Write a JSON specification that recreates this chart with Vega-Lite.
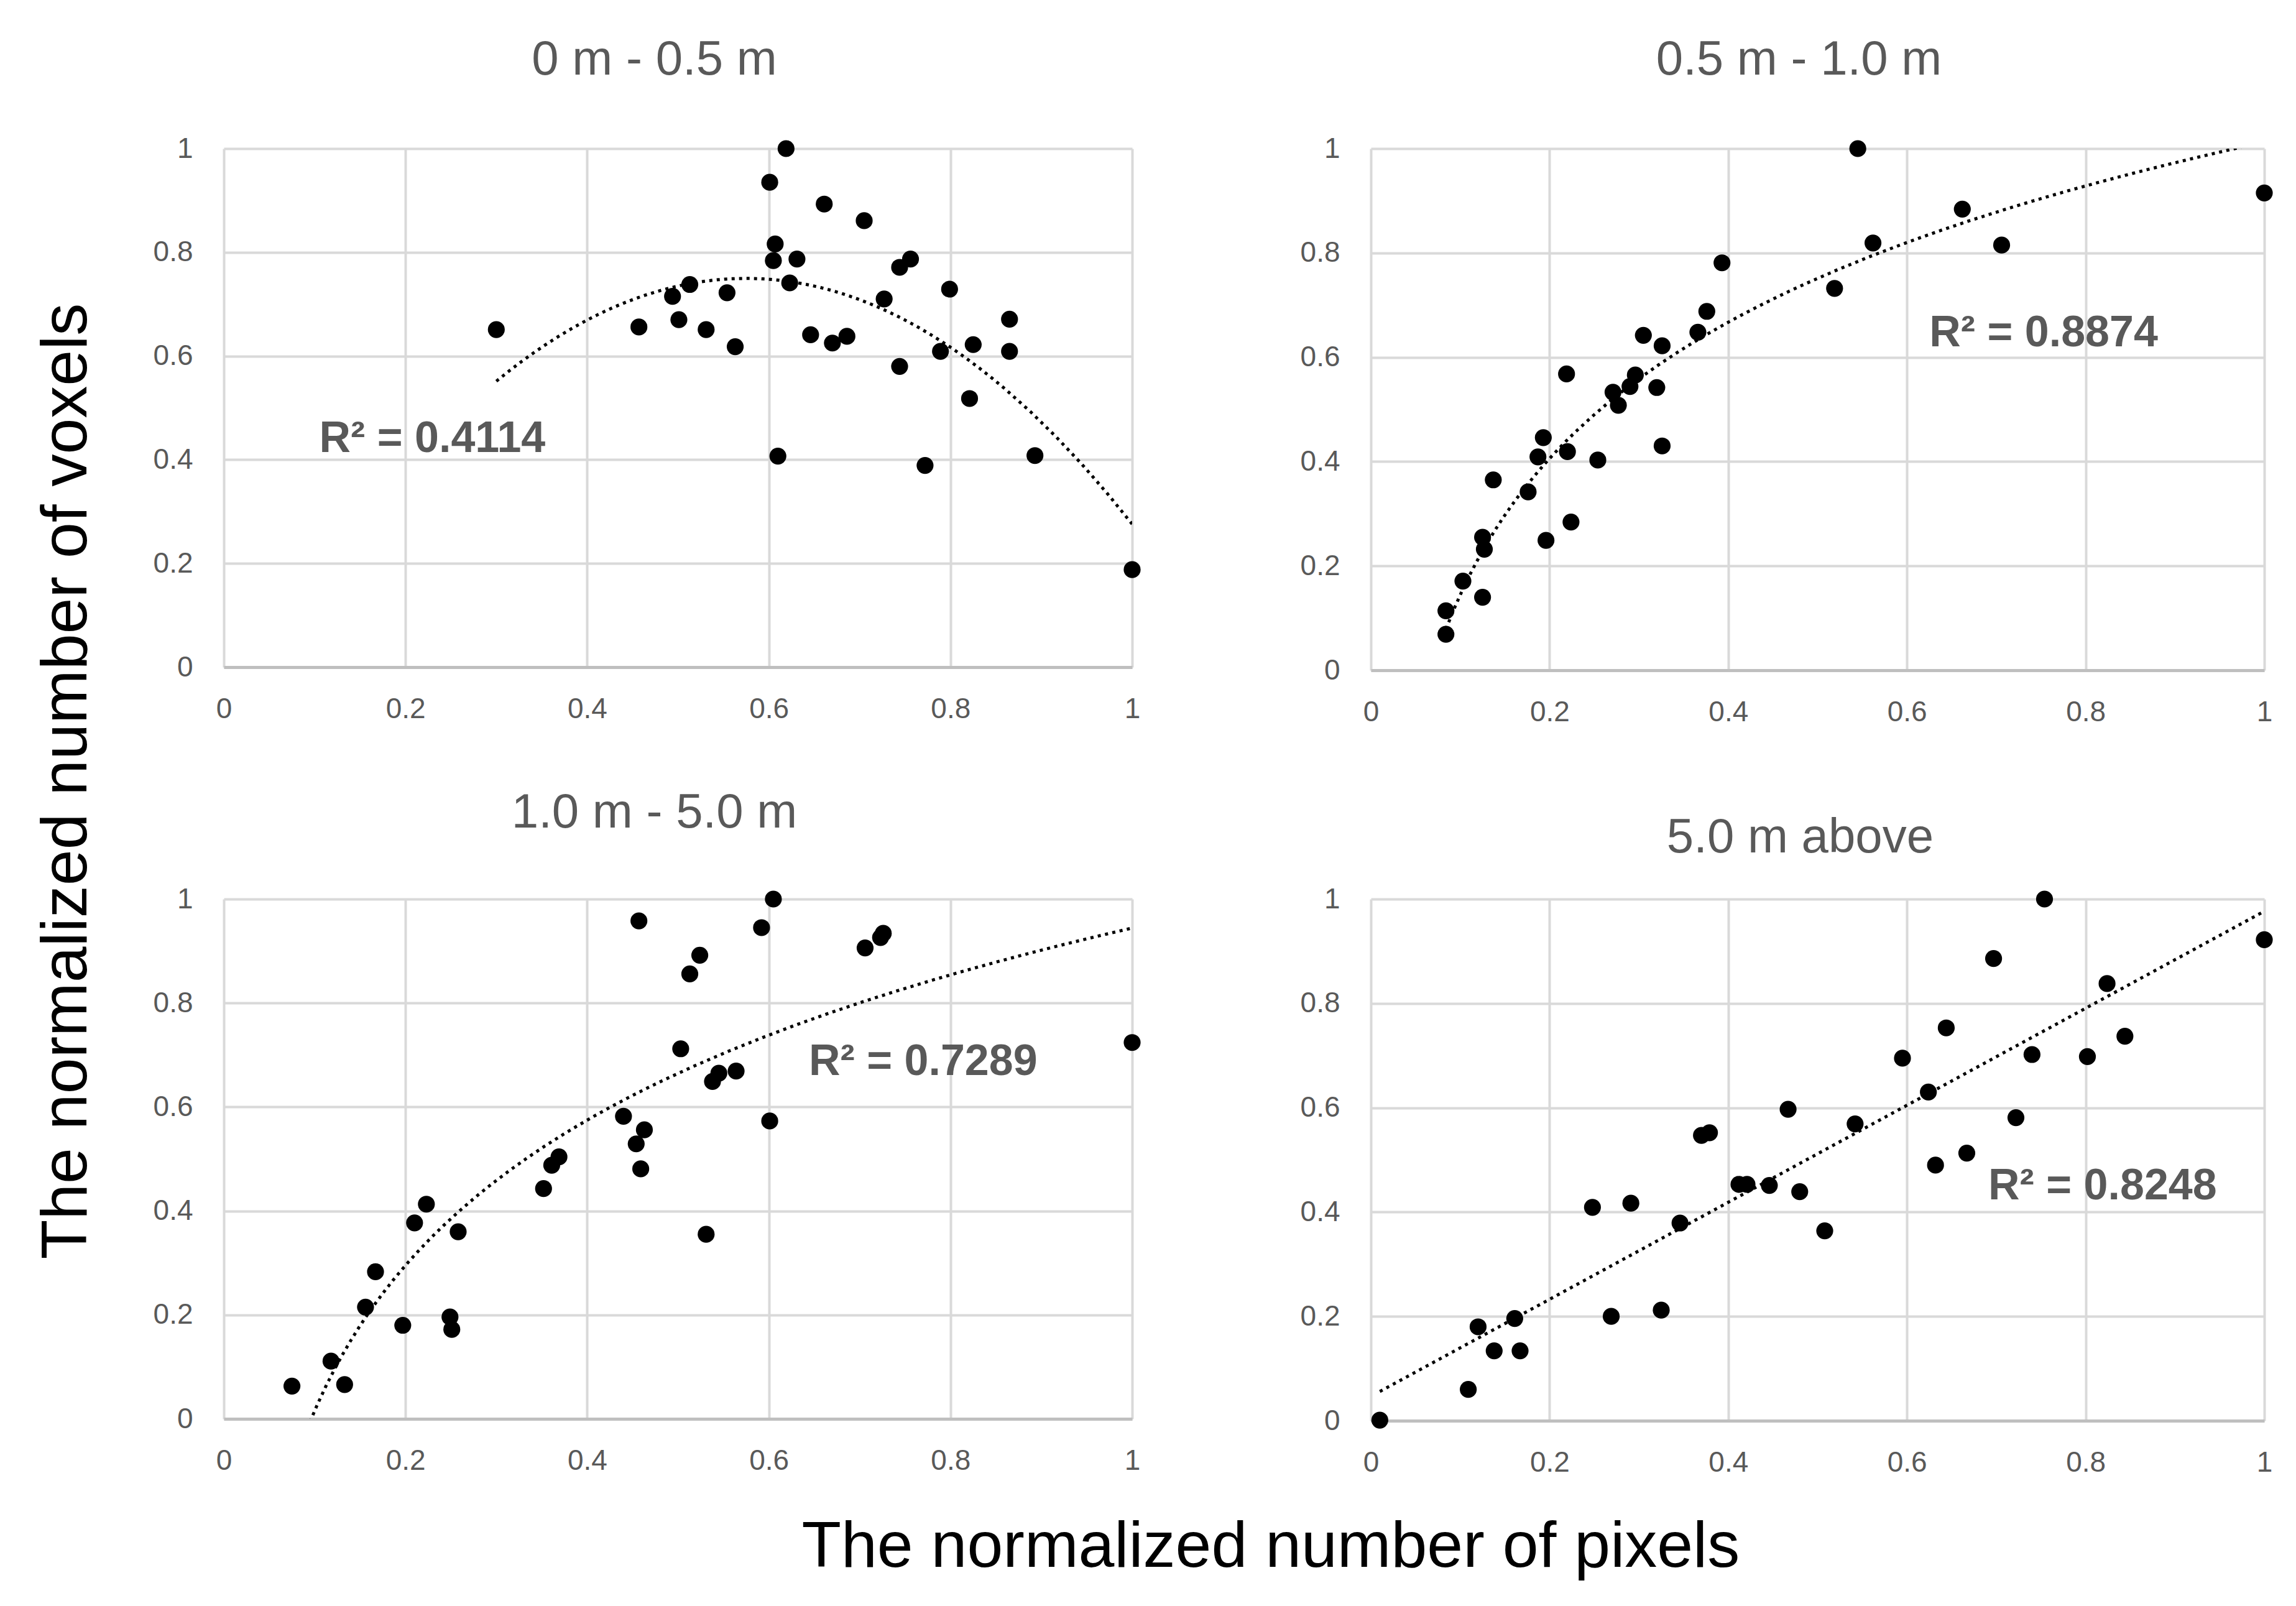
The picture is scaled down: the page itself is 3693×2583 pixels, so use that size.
{
  "$schema": "https://vega.github.io/schema/vega-lite/v6.json",
  "background": "white",
  "padding": {"left": 56, "top": 58, "right": 10, "bottom": 10},
  "title": {"text": "The normalized number of pixels", "orient": "bottom", "anchor": "middle", "fontSize": 104, "fontWeight": "normal", "color": "#000000", "font": "Liberation Sans", "offset": 63, "dx": 188},
  "datasets": {
    "p1": [
      {"x": 0.300, "y": 0.651}, {"x": 0.457, "y": 0.656}, {"x": 0.494, "y": 0.715}, {"x": 0.513, "y": 0.738},
      {"x": 0.501, "y": 0.670}, {"x": 0.531, "y": 0.651}, {"x": 0.554, "y": 0.722}, {"x": 0.563, "y": 0.618},
      {"x": 0.601, "y": 0.935}, {"x": 0.607, "y": 0.816}, {"x": 0.605, "y": 0.784}, {"x": 0.619, "y": 1.0},
      {"x": 0.631, "y": 0.787}, {"x": 0.623, "y": 0.741}, {"x": 0.610, "y": 0.407}, {"x": 0.646, "y": 0.641},
      {"x": 0.661, "y": 0.893}, {"x": 0.670, "y": 0.625}, {"x": 0.686, "y": 0.638}, {"x": 0.705, "y": 0.861},
      {"x": 0.727, "y": 0.710}, {"x": 0.744, "y": 0.771}, {"x": 0.756, "y": 0.787}, {"x": 0.744, "y": 0.580},
      {"x": 0.772, "y": 0.389}, {"x": 0.789, "y": 0.609}, {"x": 0.799, "y": 0.729}, {"x": 0.825, "y": 0.622},
      {"x": 0.821, "y": 0.518}, {"x": 0.865, "y": 0.671}, {"x": 0.865, "y": 0.609}, {"x": 0.893, "y": 0.408},
      {"x": 1.0, "y": 0.188}
    ],
    "p2": [
      {"x": 0.084, "y": 0.069}, {"x": 0.084, "y": 0.114}, {"x": 0.103, "y": 0.171}, {"x": 0.125, "y": 0.140},
      {"x": 0.125, "y": 0.255}, {"x": 0.127, "y": 0.232}, {"x": 0.137, "y": 0.365}, {"x": 0.176, "y": 0.342},
      {"x": 0.187, "y": 0.409}, {"x": 0.193, "y": 0.446}, {"x": 0.196, "y": 0.249}, {"x": 0.220, "y": 0.419},
      {"x": 0.219, "y": 0.568}, {"x": 0.224, "y": 0.284}, {"x": 0.254, "y": 0.403}, {"x": 0.271, "y": 0.533},
      {"x": 0.277, "y": 0.508}, {"x": 0.290, "y": 0.544}, {"x": 0.296, "y": 0.566}, {"x": 0.305, "y": 0.642},
      {"x": 0.320, "y": 0.542}, {"x": 0.326, "y": 0.622}, {"x": 0.326, "y": 0.430}, {"x": 0.366, "y": 0.648},
      {"x": 0.376, "y": 0.688}, {"x": 0.393, "y": 0.781}, {"x": 0.519, "y": 0.732}, {"x": 0.545, "y": 1.0},
      {"x": 0.562, "y": 0.819}, {"x": 0.662, "y": 0.884}, {"x": 0.706, "y": 0.815}, {"x": 1.0, "y": 0.915}
    ],
    "p3": [
      {"x": 0.075, "y": 0.063}, {"x": 0.118, "y": 0.111}, {"x": 0.133, "y": 0.066}, {"x": 0.156, "y": 0.215},
      {"x": 0.167, "y": 0.283}, {"x": 0.197, "y": 0.180}, {"x": 0.210, "y": 0.377}, {"x": 0.223, "y": 0.413},
      {"x": 0.249, "y": 0.196}, {"x": 0.251, "y": 0.172}, {"x": 0.258, "y": 0.360}, {"x": 0.352, "y": 0.443},
      {"x": 0.361, "y": 0.488}, {"x": 0.369, "y": 0.504}, {"x": 0.440, "y": 0.582}, {"x": 0.454, "y": 0.529},
      {"x": 0.463, "y": 0.556}, {"x": 0.459, "y": 0.481}, {"x": 0.457, "y": 0.958}, {"x": 0.503, "y": 0.712},
      {"x": 0.513, "y": 0.856}, {"x": 0.524, "y": 0.892}, {"x": 0.531, "y": 0.355}, {"x": 0.538, "y": 0.649},
      {"x": 0.545, "y": 0.665}, {"x": 0.564, "y": 0.669}, {"x": 0.592, "y": 0.945}, {"x": 0.605, "y": 1.0},
      {"x": 0.601, "y": 0.573}, {"x": 0.706, "y": 0.906}, {"x": 0.723, "y": 0.926}, {"x": 0.726, "y": 0.934},
      {"x": 1.0, "y": 0.724}
    ],
    "p4": [
      {"x": 0.010, "y": 0.001}, {"x": 0.109, "y": 0.060}, {"x": 0.120, "y": 0.180}, {"x": 0.138, "y": 0.134},
      {"x": 0.161, "y": 0.196}, {"x": 0.167, "y": 0.134}, {"x": 0.248, "y": 0.409}, {"x": 0.269, "y": 0.200},
      {"x": 0.291, "y": 0.417}, {"x": 0.325, "y": 0.212}, {"x": 0.346, "y": 0.379}, {"x": 0.370, "y": 0.547},
      {"x": 0.379, "y": 0.552}, {"x": 0.412, "y": 0.453}, {"x": 0.421, "y": 0.453}, {"x": 0.446, "y": 0.451},
      {"x": 0.467, "y": 0.597}, {"x": 0.480, "y": 0.439}, {"x": 0.508, "y": 0.364}, {"x": 0.542, "y": 0.569},
      {"x": 0.595, "y": 0.695}, {"x": 0.624, "y": 0.630}, {"x": 0.632, "y": 0.490}, {"x": 0.644, "y": 0.753},
      {"x": 0.667, "y": 0.513}, {"x": 0.697, "y": 0.886}, {"x": 0.722, "y": 0.581}, {"x": 0.740, "y": 0.702},
      {"x": 0.754, "y": 1.0}, {"x": 0.802, "y": 0.698}, {"x": 0.824, "y": 0.838}, {"x": 0.844, "y": 0.737},
      {"x": 1.0, "y": 0.922}
    ]
  },
  "vconcat": [
    {
      "title": {"text": "The normalized number of voxels", "orient": "left", "anchor": "middle", "fontSize": 104, "fontWeight": "normal", "color": "#000000", "font": "Liberation Sans", "offset": 85, "dx": -40},
      "columns": 2,
      "align": "each",
      "spacing": {"row": 101, "column": 256},
      "concat": [
        {
          "title": {"text": "0 m - 0.5 m", "offset": 80, "dx": -38},
          "width": 1461, "height": 834,
          "layer": [
            {"data": {"name": "p1"}, "mark": {"type": "circle", "size": 740, "color": "#000000", "opacity": 1},
             "encoding": {"x": {"field": "x", "type": "quantitative", "scale": {"domain": [0, 1], "nice": false}}, "y": {"field": "y", "type": "quantitative", "scale": {"domain": [0, 1], "nice": false}}}},
            {"data": {"name": "p1"}, "transform": [{"regression": "y", "on": "x", "method": "poly", "order": 2}],
             "mark": {"type": "line", "color": "#000000", "strokeWidth": 5, "strokeDash": [5, 7], "clip": true},
             "encoding": {"x": {"field": "x", "type": "quantitative", "scale": {"domain": [0, 1], "nice": false}}, "y": {"field": "y", "type": "quantitative", "scale": {"domain": [0, 1], "nice": false}}}},
            {"data": {"values": [{}]}, "mark": {"type": "text", "align": "left", "baseline": "middle", "fontSize": 70, "fontWeight": "bold", "color": "#595959"},
             "encoding": {"x": {"datum": 0.105}, "y": {"datum": 0.44}, "text": {"value": "R² = 0.4114"}}}
          ]
        },
        {
          "title": {"text": "0.5 m - 1.0 m", "offset": 80, "dx": -30},
          "width": 1437, "height": 839,
          "layer": [
            {"data": {"name": "p2"}, "mark": {"type": "circle", "size": 740, "color": "#000000", "opacity": 1},
             "encoding": {"x": {"field": "x", "type": "quantitative", "scale": {"domain": [0, 1], "nice": false}}, "y": {"field": "y", "type": "quantitative", "scale": {"domain": [0, 1], "nice": false}}}},
            {"data": {"name": "p2"}, "transform": [{"regression": "y", "on": "x", "method": "log"}],
             "mark": {"type": "line", "color": "#000000", "strokeWidth": 5, "strokeDash": [5, 7], "clip": true},
             "encoding": {"x": {"field": "x", "type": "quantitative", "scale": {"domain": [0, 1], "nice": false}}, "y": {"field": "y", "type": "quantitative", "scale": {"domain": [0, 1], "nice": false}}}},
            {"data": {"values": [{}]}, "mark": {"type": "text", "align": "left", "baseline": "middle", "fontSize": 70, "fontWeight": "bold", "color": "#595959"},
             "encoding": {"x": {"datum": 0.625}, "y": {"datum": 0.646}, "text": {"value": "R² = 0.8874"}}}
          ]
        },
        {
          "title": {"text": "1.0 m - 5.0 m", "offset": 76, "dx": -38},
          "width": 1461, "height": 836,
          "layer": [
            {"data": {"name": "p3"}, "mark": {"type": "circle", "size": 740, "color": "#000000", "opacity": 1},
             "encoding": {"x": {"field": "x", "type": "quantitative", "scale": {"domain": [0, 1], "nice": false}}, "y": {"field": "y", "type": "quantitative", "scale": {"domain": [0, 1], "nice": false}}}},
            {"data": {"name": "p3"}, "transform": [{"regression": "y", "on": "x", "method": "log"}],
             "mark": {"type": "line", "color": "#000000", "strokeWidth": 5, "strokeDash": [5, 7], "clip": true},
             "encoding": {"x": {"field": "x", "type": "quantitative", "scale": {"domain": [0, 1], "nice": false}}, "y": {"field": "y", "type": "quantitative", "scale": {"domain": [0, 1], "nice": false}}}},
            {"data": {"values": [{}]}, "mark": {"type": "text", "align": "left", "baseline": "middle", "fontSize": 70, "fontWeight": "bold", "color": "#595959"},
             "encoding": {"x": {"datum": 0.644}, "y": {"datum": 0.687}, "text": {"value": "R² = 0.7289"}}}
          ]
        },
        {
          "title": {"text": "5.0 m above", "offset": 36, "dx": -28},
          "width": 1437, "height": 839,
          "layer": [
            {"data": {"name": "p4"}, "mark": {"type": "circle", "size": 740, "color": "#000000", "opacity": 1},
             "encoding": {"x": {"field": "x", "type": "quantitative", "scale": {"domain": [0, 1], "nice": false}}, "y": {"field": "y", "type": "quantitative", "scale": {"domain": [0, 1], "nice": false}}}},
            {"data": {"name": "p4"}, "transform": [{"regression": "y", "on": "x", "method": "linear"}],
             "mark": {"type": "line", "color": "#000000", "strokeWidth": 5, "strokeDash": [5, 7], "clip": true},
             "encoding": {"x": {"field": "x", "type": "quantitative", "scale": {"domain": [0, 1], "nice": false}}, "y": {"field": "y", "type": "quantitative", "scale": {"domain": [0, 1], "nice": false}}}},
            {"data": {"values": [{}]}, "mark": {"type": "text", "align": "left", "baseline": "middle", "fontSize": 70, "fontWeight": "bold", "color": "#595959"},
             "encoding": {"x": {"datum": 0.691}, "y": {"datum": 0.449}, "text": {"value": "R² = 0.8248"}}}
          ]
        }
      ]
    }
  ],
  "config": {
    "font": "Liberation Sans",
    "view": {"stroke": null},
    "title": {"fontSize": 78, "fontWeight": "normal", "color": "#595959", "anchor": "middle"},
    "axisX": {"title": null, "tickCount": 5, "format": "~g", "labelFontSize": 46, "labelColor": "#595959", "labelPadding": 45, "ticks": false, "domain": true, "domainColor": "#bfbfbf", "domainWidth": 5, "grid": true, "gridColor": "#d9d9d9", "gridWidth": 4, "labelFlush": false},
    "axisY": {"title": null, "tickCount": 5, "format": "~g", "labelFontSize": 46, "labelColor": "#595959", "labelPadding": 50, "ticks": false, "domain": false, "grid": true, "gridColor": "#d9d9d9", "gridWidth": 4, "labelFlush": false},
    "line": {"strokeCap": "butt"}
  }
}
